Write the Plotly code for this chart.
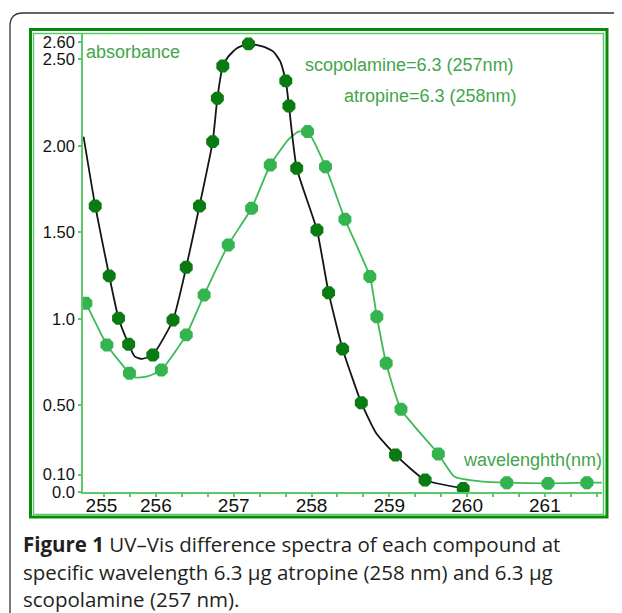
import plotly.graph_objects as go

# ---------------- data ----------------
# scopolamine: marker points (wavelength nm, absorbance)
scop_x = [255.22, 255.40, 255.52, 255.65, 255.96, 256.22, 256.39, 256.56, 256.73, 256.79,
          256.86, 257.19, 257.67, 257.71, 257.81, 258.07, 258.22, 258.40, 258.64, 259.08,
          259.46, 259.95]
scop_y = [1.653, 1.249, 1.004, 0.854, 0.792, 0.994, 1.299, 1.653, 2.025, 2.276,
          2.462, 2.590, 2.376, 2.231, 1.871, 1.514, 1.152, 0.827, 0.516, 0.214,
          0.069, 0.021]
# scopolamine: traced curve
scop_curve_x = [255.07, 255.22, 255.40, 255.52, 255.65, 255.73, 255.82, 255.96, 256.22, 256.39,
                256.56, 256.73, 256.79, 256.86, 256.93, 257.04, 257.19, 257.38, 257.51, 257.60,
                257.67, 257.71, 257.81, 258.07, 258.22, 258.40, 258.64, 258.83, 259.08, 259.46,
                259.95]
scop_curve_y = [2.054, 1.653, 1.249, 1.004, 0.854, 0.782, 0.769, 0.792, 0.994, 1.299,
                1.653, 2.025, 2.276, 2.462, 2.516, 2.565, 2.590, 2.574, 2.545, 2.487,
                2.376, 2.231, 1.871, 1.514, 1.152, 0.827, 0.516, 0.341, 0.214, 0.069,
                0.021]

# atropine: marker points
atro_x = [255.10, 255.37, 255.66, 256.07, 256.39, 256.62, 256.93, 257.23, 257.47, 257.95,
          258.18, 258.43, 258.75, 258.84, 258.96, 259.15, 259.63, 260.51, 261.04, 261.54]
atro_y = [1.091, 0.850, 0.686, 0.705, 0.908, 1.139, 1.428, 1.640, 1.890, 2.083,
          1.880, 1.576, 1.245, 1.013, 0.744, 0.478, 0.220, 0.054, 0.050, 0.054]
# atropine: traced curve
atro_curve_x = [255.07, 255.10, 255.37, 255.66, 255.73, 255.89, 256.07, 256.39, 256.62, 256.93,
                257.23, 257.47, 257.70, 257.83, 257.95, 258.18, 258.43, 258.75, 258.84, 258.96,
                259.15, 259.63, 259.84, 260.21, 260.51, 261.04, 261.54, 261.73]
atro_curve_y = [1.110, 1.091, 0.850, 0.686, 0.662, 0.668, 0.705, 0.908, 1.139, 1.428,
                1.640, 1.890, 2.035, 2.083, 2.083, 1.880, 1.576, 1.245, 1.013, 0.744,
                0.478, 0.220, 0.088, 0.060, 0.054, 0.050, 0.054, 0.054]

x_tick_vals = [255.3, 256, 257, 258, 259, 260, 261]
x_tick_text = ["255", "256", "257", "258", "259", "260", "261"]
y_tick_vals = [0.0, 0.1, 0.5, 1.0, 1.5, 2.0, 2.5, 2.6]
y_tick_text = ["0.0", "0.10", "0.50", "1.0", "1.50", "2.00", "2.50", "2.60"]

# ---------------- layout geometry (screen pixels) ----------------
W, H = 622, 613
O = 8  # page body margin
L, R, T, B = 83, 602, 34, 492


def px(x):
    return (x - L) / (R - L)


def py(y):
    return (B - y) / (B - T)


SANS = "Liberation Sans, Arial, sans-serif"
GREEN_TXT = "#3fa64a"
LIGHT = "#5cc96b"
DARK = "#0a8a0a"

fig = go.Figure()
fig.add_trace(go.Scatter(x=atro_curve_x, y=atro_curve_y, mode="lines",
                         line=dict(color="#3dbb57", width=1.8, shape="spline", smoothing=0.5),
                         hoverinfo="skip", showlegend=False))
fig.add_trace(go.Scatter(x=atro_x, y=atro_y, mode="markers", name="atropine",
                         marker=dict(symbol="octagon", size=14, color="#33b44f", line=dict(width=0)),
                         showlegend=False))
fig.add_trace(go.Scatter(x=scop_curve_x, y=scop_curve_y, mode="lines",
                         line=dict(color="#151515", width=1.8, shape="spline", smoothing=0.5),
                         hoverinfo="skip", showlegend=False))
fig.add_trace(go.Scatter(x=scop_x, y=scop_y, mode="markers", name="scopolamine",
                         marker=dict(symbol="octagon", size=14, color="#0a7a12", line=dict(width=0)),
                         showlegend=False))

shapes = []
# outer rounded page frame
path = (f"M {px(10)},{py(640)} L {px(10)},{py(26)} Q {px(10)},{py(13)} {px(23)},{py(13)} "
        f"L {px(660)},{py(13)}")
shapes.append(dict(type="path", xref="paper", yref="paper", path=path,
                   line=dict(color="#333333", width=1.3), layer="below"))
# dark green frame
shapes.append(dict(type="rect", xref="paper", yref="paper",
                   x0=px(30.5), x1=px(607), y0=py(517), y1=py(29.5),
                   line=dict(color=DARK, width=3)))
# light green inner frame
shapes.append(dict(type="rect", xref="paper", yref="paper",
                   x0=px(33.5), x1=px(603.5), y0=py(514.5), y1=py(33.5),
                   line=dict(color=LIGHT, width=1.5)))

annotations = []


def txt(text, x, y, size, color, xanchor="left", font=SANS):
    annotations.append(dict(text=text, x=px(x), y=py(y), xref="paper", yref="paper",
                            xanchor=xanchor, yanchor="middle", showarrow=False,
                            font=dict(family=font, size=size, color=color)))


txt("absorbance", 84, 51.5, 18, GREEN_TXT)
txt("scopolamine=6.3 (257nm)", 303, 65, 18, GREEN_TXT)
txt("atropine=6.3 (258nm)", 342, 96.5, 18, GREEN_TXT)
txt("wavelenghth(nm)", 604, 460, 18, GREEN_TXT, xanchor="right")

CAP = "Open Sans, Noto Sans, sans-serif"
txt("<b>Figure 1</b> UV–Vis difference spectra of each compound at", 21, 543.5, 20.5, "#231f20", font=CAP)
txt("specific wavelength 6.3 µg atropine (258 nm) and 6.3 µg", 21, 571.5, 20.5, "#231f20", font=CAP)
txt("scopolamine (257 nm).", 21, 599, 20.5, "#231f20", font=CAP)

fig.update_layout(
    width=W - O, height=H - O,
    margin=dict(l=L - O, r=W - R, t=T - O, b=H - B, pad=0),
    paper_bgcolor="white", plot_bgcolor="white",
    shapes=shapes, annotations=annotations,
    xaxis=dict(range=[255.063, 261.734], showgrid=False, zeroline=False,
               showline=True, linecolor=LIGHT, linewidth=1.5,
               tickmode="array", tickvals=x_tick_vals, ticktext=x_tick_text,
               ticks="outside", ticklen=2, tickcolor="rgba(0,0,0,0)",
               ticklabelstandoff=-7,
               tickfont=dict(family=SANS, size=19, color="#111111"),
               minor=dict(tick0=255, dtick=1 / 3, ticks="outside", ticklen=3,
                          tickcolor=LIGHT, tickwidth=1.5)),
    yaxis=dict(range=[0, 2.647], showgrid=False, zeroline=False,
               showline=True, linecolor=LIGHT, linewidth=1.5,
               tickmode="array", tickvals=y_tick_vals, ticktext=y_tick_text,
               ticks="outside", ticklen=3, tickcolor=LIGHT, tickwidth=1.5,
               tickfont=dict(family=SANS, size=16.5, color="#111111")),
)

fig.write_html("out.html")
